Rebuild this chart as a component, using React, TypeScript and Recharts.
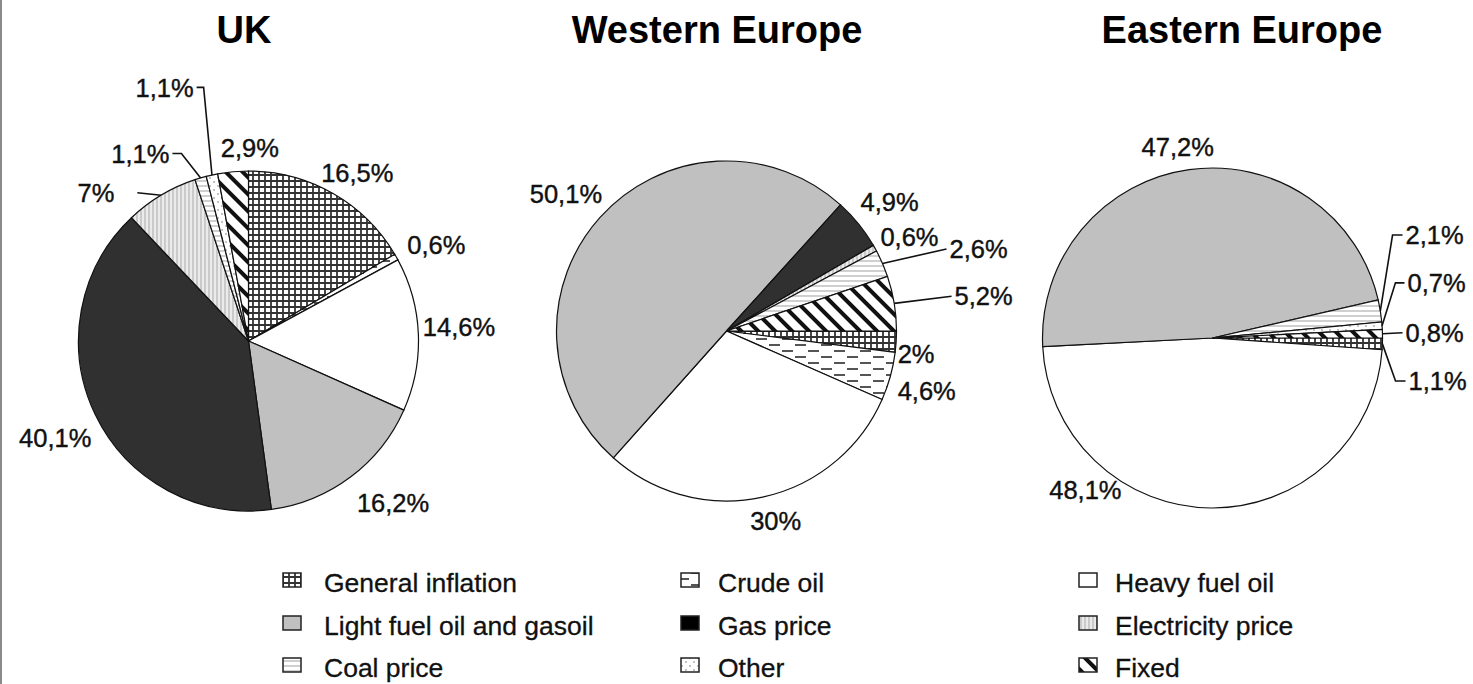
import React from "react";
import { PieChart, Pie, Cell } from "recharts";

const categories = [
  "General inflation",
  "Crude oil",
  "Heavy fuel oil",
  "Light fuel oil and gasoil",
  "Gas price",
  "Electricity price",
  "Coal price",
  "Other",
  "Fixed",
];
const regions = ["UK", "Western Europe", "Eastern Europe"];
const ukValues = [16.5, 0.6, 14.6, 16.2, 40.1, 7, 1.1, 1.1, 2.9];
const weValues = [2, 4.6, 30, 50.1, 4.9, 0.6, 2.6, 0, 5.2];
const eeValues = [1.1, 0, 48.1, 47.2, 0, 0, 2.1, 0.7, 0.8];

type LabelPos = { da: number; r: number; anchor?: "start" | "end"; elbow?: number; gap?: number } | null;

// label placement relative to each slice's mid angle (da in degrees, r in px)
const ukLabels: LabelPos[] = [
  { da: -3.3, r: 200 },
  { da: -2.5, r: 211 },
  { da: 1.6, r: 211 },
  { da: 4.9, r: 217 },
  { da: 0.9, r: 216 },
  { da: 11.2, r: 200, anchor: "end", elbow: 0, gap: 23 },
  { da: 6.5, r: 203.5, anchor: "end", elbow: 12 },
  { da: -0.2, r: 259.5, anchor: "end", elbow: 10 },
  { da: -5.6, r: 193 },
];
const weLabels: LabelPos[] = [
  { da: -3.3, r: 191 },
  { da: -1.2, r: 209 },
  { da: 2.3, r: 196 },
  { da: 1.5, r: 211 },
  { da: -0.7, r: 208 },
  { da: -1.8, r: 206 },
  { da: -3.2, r: 237.6, anchor: "start", elbow: 0 },
  null,
  { da: -0.7, r: 230.7, anchor: "start", elbow: 0 },
];
const eeLabels: LabelPos[] = [
  { da: -10.4, r: 200.7, anchor: "start", elbow: 13 },
  null,
  { da: -39.4, r: 198 },
  { da: 2.4, r: 194 },
  null,
  null,
  { da: 18.9, r: 218.8, anchor: "start", elbow: 13 },
  { da: 11.65, r: 202.6, anchor: "start", elbow: 12 },
  { da: 0.1, r: 193.1, anchor: "start", elbow: 0 },
];

const FONT = "'Liberation Sans', Arial, sans-serif";
const LABEL_FS = 25.5;
const RAD = Math.PI / 180;

const polar = (cx: number, cy: number, r: number, a: number) => ({
  x: cx + r * Math.cos(-a * RAD),
  y: cy + r * Math.sin(-a * RAD),
});

const fmt = (v: number) => `${String(v).replace(".", ",")}%`;

const buildData = (values: number[]) =>
  values
    .map((value, idx) => ({ name: categories[idx], value, idx }))
    .filter((d) => d.value > 0);

const makeLabel = (layout: LabelPos[]) => (props: any) => {
  const { cx, cy, midAngle, outerRadius, value } = props;
  const idx = props.idx ?? props.payload?.idx ?? categories.indexOf(props.name);
  const pos = layout[idx];
  if (!pos || !value) return null;
  const p = polar(cx, cy, pos.r, midAngle + pos.da);
  let line = null;
  if (pos.anchor) {
    const dir = pos.anchor === "start" ? -1 : 1;
    const edge = polar(cx, cy, outerRadius, midAngle);
    const pts: number[][] = [[edge.x, edge.y]];
    if (pos.elbow) pts.push([p.x + dir * pos.elbow, p.y]);
    pts.push([p.x + dir * (pos.gap ?? 3), p.y]);
    line = (
      <polyline
        points={pts.map((q) => q.join(",")).join(" ")}
        fill="none"
        stroke="#111"
        strokeWidth={1.6}
      />
    );
  }
  return (
    <g>
      {line}
      <text
        x={p.x}
        y={p.y + LABEL_FS * 0.36}
        textAnchor={pos.anchor ?? "middle"}
        fontFamily={FONT}
        fontSize={LABEL_FS}
        fill="#111"
        stroke="#111"
        strokeWidth={0.4}
      >
        {fmt(value)}
      </text>
    </g>
  );
};

const Patterns = () => (
  <defs>
    <pattern id="pat-0" width="6" height="6" patternUnits="userSpaceOnUse">
      <rect width="6" height="6" fill="#fff" />
      <path d="M0 1 H6 M1 0 V6" stroke="#333" strokeWidth="1.8" />
    </pattern>
    <pattern id="pat-1" width="26" height="12" patternUnits="userSpaceOnUse">
      <rect width="26" height="12" fill="#fff" />
      <path d="M2 3 H13 M15 9 H26" stroke="#555" strokeWidth="2" />
    </pattern>
    <pattern id="pat-2" width="4" height="4" patternUnits="userSpaceOnUse">
      <rect width="4" height="4" fill="#fff" />
    </pattern>
    <pattern id="pat-3" width="4" height="4" patternUnits="userSpaceOnUse">
      <rect width="4" height="4" fill="#c0c0c0" />
    </pattern>
    <pattern id="pat-4" width="4" height="4" patternUnits="userSpaceOnUse">
      <rect width="4" height="4" fill="#303030" />
    </pattern>
    <pattern id="pat-5" width="4" height="4" patternUnits="userSpaceOnUse">
      <rect width="4" height="4" fill="#ebebeb" />
      <path d="M1 0 V4" stroke="#bcbcbc" strokeWidth="1.4" />
    </pattern>
    <pattern id="pat-6" width="5" height="5" patternUnits="userSpaceOnUse">
      <rect width="5" height="5" fill="#fff" />
      <path d="M0 1 H5" stroke="#c4c4c4" strokeWidth="1.6" />
    </pattern>
    <pattern id="pat-7" width="8" height="8" patternUnits="userSpaceOnUse">
      <rect width="8" height="8" fill="#fff" />
      <circle cx="2" cy="2" r="0.8" fill="#777" />
      <circle cx="6" cy="6" r="0.8" fill="#777" />
    </pattern>
    <pattern id="pat-8" width="12" height="12" patternUnits="userSpaceOnUse" patternTransform="rotate(-45)">
      <rect width="12" height="12" fill="#fff" />
      <rect width="4" height="12" fill="#111" />
    </pattern>
  </defs>
);

const pies = [
  { values: ukValues, labels: ukLabels, cx: 248.5, cy: 341, start: 90, end: -270 },
  { values: weValues, labels: weLabels, cx: 726.5, cy: 331, start: 0, end: -360 },
  { values: eeValues, labels: eeLabels, cx: 1212.5, cy: 338, start: 0, end: -360 },
];

const titleX = [244, 717, 1242];
const legendIconX = [283, 681, 1079];
const legendTextX = [324, 718, 1115];
const legendBaseY = [592, 635, 677];

export default function App() {
  return (
    <div
      style={{
        position: "absolute",
        left: 0,
        top: 0,
        width: 1473,
        height: 684,
        background: "#fff",
        borderLeft: "2px solid #8a8a8a",
        boxSizing: "border-box",
      }}
    >
      <svg width={0} height={0} style={{ position: "absolute" }}>
        <Patterns />
      </svg>
      <div style={{ position: "absolute", left: -2, top: 0 }}>
        <PieChart width={1473} height={684} margin={{ top: 0, right: 0, bottom: 0, left: 0 }}>
          {pies.map((p, i) => (
            <Pie
              key={regions[i]}
              data={buildData(p.values)}
              dataKey="value"
              nameKey="name"
              cx={p.cx}
              cy={p.cy}
              outerRadius={170}
              startAngle={p.start}
              endAngle={p.end}
              stroke="#111"
              strokeWidth={1.2}
              label={makeLabel(p.labels)}
              labelLine={false}
              isAnimationActive={false}
            >
              {buildData(p.values).map((d) => (
                <Cell key={d.name} fill={`url(#pat-${d.idx})`} />
              ))}
            </Pie>
          ))}
        </PieChart>
      </div>
      <svg
        width={1473}
        height={684}
        style={{ position: "absolute", left: -2, top: 0, pointerEvents: "none" }}
      >
        {regions.map((r, i) => (
          <text
            key={r}
            x={titleX[i]}
            y={43}
            textAnchor="middle"
            fontFamily={FONT}
            fontWeight="bold"
            fontSize={38}
            fill="#000"
          >
            {r}
          </text>
        ))}
        {categories.map((c, i) => {
          const col = i % 3;
          const row = Math.floor(i / 3);
          const by = legendBaseY[row];
          return (
            <g key={c}>
              <rect
                x={legendIconX[col]}
                y={by - 19}
                width={18}
                height={14}
                fill={i === 4 ? "#000" : `url(#pat-${i})`}
                stroke="#222"
                strokeWidth={1.5}
              />
              <text
                x={legendTextX[col]}
                y={by}
                fontFamily={FONT}
                fontSize={26.5}
                fill="#111"
                stroke="#111"
                strokeWidth={0.3}
              >
                {c}
              </text>
            </g>
          );
        })}
      </svg>
    </div>
  );
}
